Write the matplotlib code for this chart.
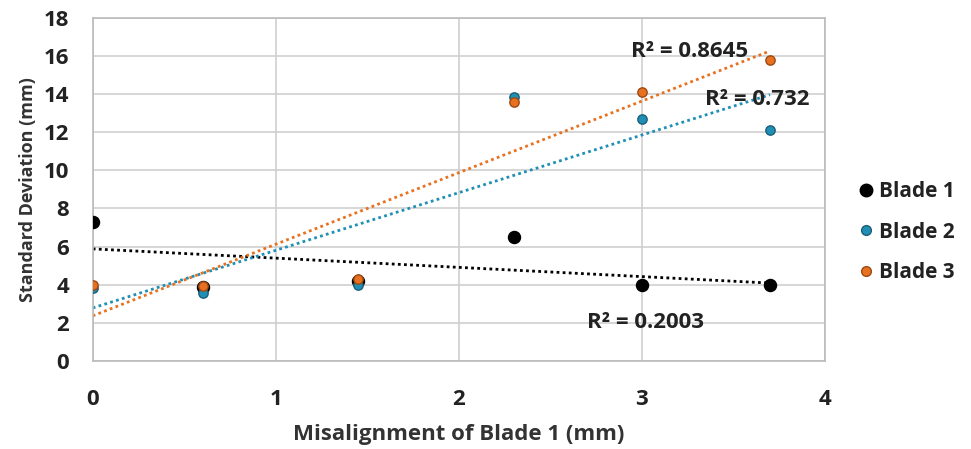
import numpy as np
import matplotlib
matplotlib.use("Agg")
import matplotlib.pyplot as plt
from matplotlib.lines import Line2D

plt.rcParams['font.family'] = ['Open Sans', 'DejaVu Sans']

x_vals = [0, 0.6, 1.45, 2.3, 3.0, 3.7]
blade1 = [7.3, 3.9, 4.2, 6.5, 4.0, 4.0]
blade2 = [3.85, 3.55, 4.0, 13.85, 12.7, 12.1]
blade3 = [4.0, 3.95, 4.3, 13.55, 14.1, 15.75]
series_names = ["Blade 1", "Blade 2", "Blade 3"]
r2_labels = ["R² = 0.2003", "R² = 0.732", "R² = 0.8645"]

colors = ["#000000", "#1F8FB5", "#E8711F"]
edges = ["#000000", "#1B5E78", "#9C4A14"]
sizes = [75, 45, 45]

fig = plt.figure(figsize=(9.71, 4.49), dpi=100)
ax = fig.add_axes([0.0955, 0.196, 0.754, 0.765])

x = np.array(x_vals)
for ys, c, ec, s in zip([blade1, blade2, blade3], colors, edges, sizes):
    ax.scatter(x, ys, s=s, color=c, edgecolors=ec, linewidths=1, zorder=3)
    k, b = np.polyfit(x, ys, 1)
    xx = np.array([x.min(), x.max()])
    ax.plot(xx, k * xx + b, linestyle=(0, (1, 1.2)), color=c, lw=2, zorder=2)

tkw = dict(ha='center', va='center', fontsize=16, fontweight='bold', color='#222222', zorder=4)
ax.text(3.02, 2.0, r2_labels[0], **tkw)
ax.text(3.63, 13.7, r2_labels[1], **tkw)
ax.text(3.26, 16.2, r2_labels[2], **tkw)

ax.set_xlim(0, 4)
ax.set_ylim(0, 18)
ax.set_xticks([0, 1, 2, 3, 4])
ax.set_yticks(range(0, 19, 2))
ax.grid(True, color='#CFCFCF', lw=1.2)
ax.set_axisbelow(True)
for sp in ax.spines.values():
    sp.set_color('#BBBBBB')
    sp.set_linewidth(1.2)
ax.tick_params(axis='both', length=0, labelsize=16, colors='#222222')
ax.tick_params(axis='x', pad=20)
ax.tick_params(axis='y', pad=17)
for lab in ax.get_xticklabels() + ax.get_yticklabels():
    lab.set_fontweight('bold')

ax.set_xlabel("Misalignment of Blade 1 (mm)", fontsize=16, fontweight='bold', color='#333333', labelpad=10)
ax.set_ylabel("Standard Deviation (mm)", fontsize=13, fontweight='bold', color='#333333', labelpad=5)

handles = [Line2D([0], [0], marker='o', linestyle='none', markerfacecolor=c, markeredgecolor=ec,
                  markersize=ms) for c, ec, ms in zip(colors, edges, [9, 7, 7])]
leg = fig.legend(handles, series_names, loc='center left', bbox_to_anchor=(0.862, 0.483),
                 frameon=False, fontsize=15, handletextpad=0.1, labelspacing=0.95, handlelength=1)
for t in leg.get_texts():
    t.set_fontweight('bold')
    t.set_color('#222222')

fig.savefig("out.png", dpi=100)
